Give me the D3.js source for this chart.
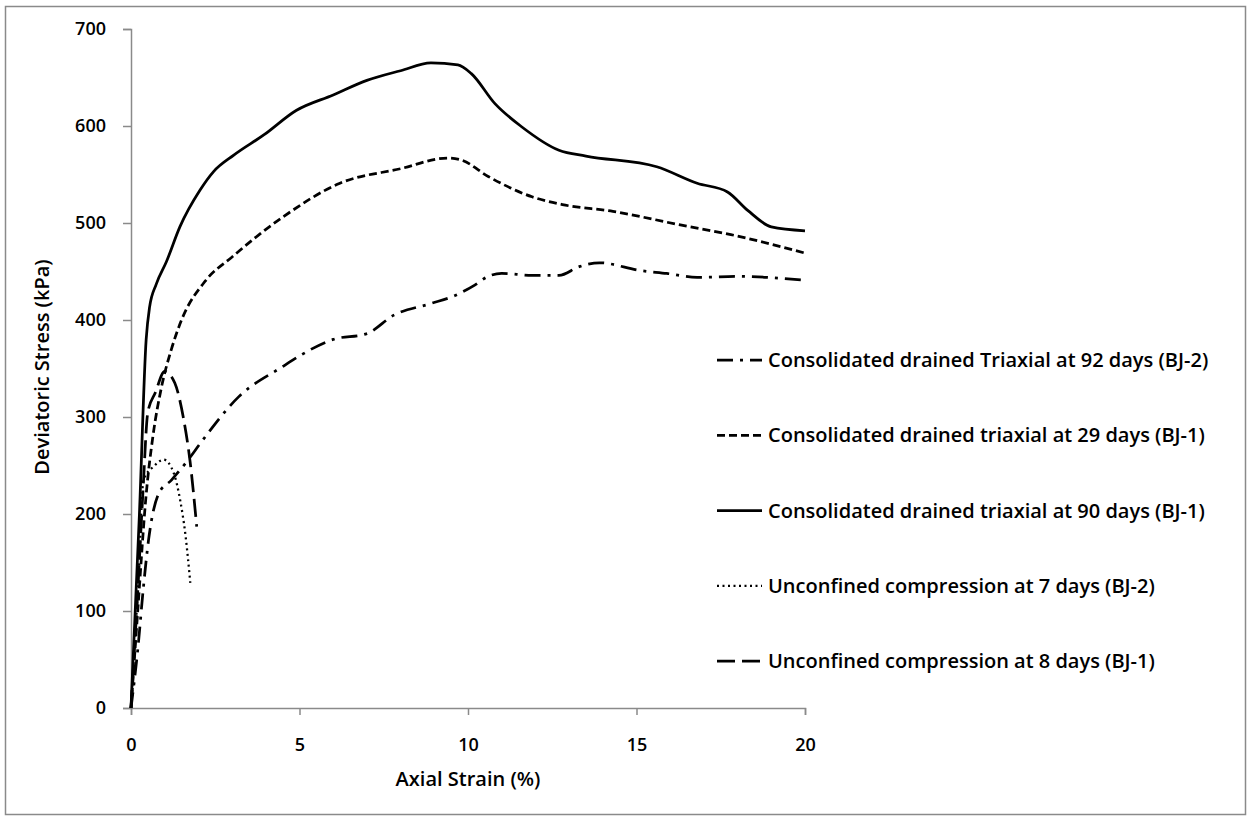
<!DOCTYPE html>
<html>
<head>
<meta charset="utf-8">
<script src="https://cdn.jsdelivr.net/npm/d3@7"></script>
<style>
  body { margin: 0; background: #fff; }
  text { font-family: "Open Sans", sans-serif; font-weight: 600; fill: #000; }
</style>
</head>
<body>
<div id="chart"></div>
<script>
// chart values
var xTicks = [0, 5, 10, 15, 20];
var yTicks = [0, 100, 200, 300, 400, 500, 600, 700];

var cd92Strain = [0, 0.2, 0.37, 0.52, 0.82, 1.2, 1.7, 2.06, 3.2, 4.5, 5.0, 6.0, 7.0, 7.8, 8.9, 9.6, 10.2, 10.6, 11.0, 11.9, 12.7, 13.3, 13.9, 15.1, 15.9, 16.8, 18.0, 20.0];
var cd92Stress = [0, 60, 125, 173, 221, 235, 256, 273, 321, 352, 363, 380, 386, 405, 417, 425, 436, 445, 448, 446, 446, 455, 459, 451, 448, 444, 445, 441];

var cd29Strain = [0, 0.2, 0.45, 0.65, 0.9, 1.2, 1.5, 2.2, 3.0, 4.5, 6.2, 8.0, 9.4, 9.8, 10.6, 11.9, 12.8, 14.3, 16.3, 17.8, 20.0];
var cd29Stress = [0, 100, 220, 280, 330, 370, 400, 440, 465, 506, 541, 556, 567, 565, 548, 527, 519, 512, 498, 488, 469];

var cd90Strain = [0, 0.25, 0.45, 0.55, 0.75, 1.05, 1.45, 2.05, 2.45, 3.05, 3.95, 4.9, 6.0, 7.0, 8.0, 8.9, 9.7, 10.1, 10.8, 11.6, 12.7, 13.5, 15.6, 16.8, 17.7, 18.3, 19.0, 20.0];
var cd90Stress = [0, 200, 380, 413, 437, 460, 496, 534, 553, 570, 591, 616, 632, 647, 657, 665, 663, 654, 623, 599, 575, 569, 558, 541, 532, 513, 496, 492];

var uc7Strain = [0, 0.12, 0.23, 0.37, 0.67, 0.97, 1.27, 1.46, 1.61, 1.76];
var uc7Stress = [0, 70, 139, 235, 249, 256, 242, 214, 180, 129];

var uc8Strain = [0, 0.2, 0.35, 0.5, 0.72, 1.0, 1.3, 1.55, 1.75, 1.95];
var uc8Stress = [0, 120, 220, 305, 325, 347, 335, 300, 255, 187];

var seriesNames = [
  "Consolidated drained Triaxial at 92 days (BJ-2)",
  "Consolidated drained triaxial at 29 days (BJ-1)",
  "Consolidated drained triaxial at 90 days (BJ-1)",
  "Unconfined compression at 7 days (BJ-2)",
  "Unconfined compression at 8 days (BJ-1)"
];

var series = [
  {name: seriesNames[0], x: cd92Strain, y: cd92Stress, dash: "16,7,3,7", w: 2.75},
  {name: seriesNames[1], x: cd29Strain, y: cd29Stress, dash: "8,4", w: 2.75},
  {name: seriesNames[2], x: cd90Strain, y: cd90Stress, dash: null, w: 2.75},
  {name: seriesNames[3], x: uc7Strain, y: uc7Stress, dash: "2,3.5", w: 2.25},
  {name: seriesNames[4], x: uc8Strain, y: uc8Stress, dash: "18,7", w: 2.75}
];

var svgWidth = 1248;
var svgHeight = 819;

var svg = d3.select("#chart")
  .append("svg")
  .attr("width", svgWidth)
  .attr("height", svgHeight);

// outer frame
svg.append("rect")
  .attr("x", 5.5).attr("y", 6.5)
  .attr("width", 1240).attr("height", 808)
  .attr("fill", "none")
  .attr("stroke", "#8a8a8a")
  .attr("stroke-width", 1.5);

var xScale = d3.scaleLinear().domain([0, 20]).range([131, 805]);
var yScale = d3.scaleLinear().domain([0, 700]).range([708, 29]);

// axes
var xAxis = d3.axisBottom(xScale).tickValues(xTicks).tickSize(7).tickPadding(23);
var yAxis = d3.axisLeft(yScale).tickValues(yTicks).tickSize(8).tickPadding(17);

var xAxisG = svg.append("g")
  .attr("transform", "translate(0," + yScale(0) + ")")
  .call(xAxis);

var yAxisG = svg.append("g")
  .attr("transform", "translate(" + xScale(0) + ",0)")
  .call(yAxis);

[xAxisG, yAxisG].forEach(function(g) {
  g.select(".domain").attr("stroke", "#8a8a8a").attr("stroke-width", 1.5);
  g.selectAll(".tick line").attr("stroke", "#8a8a8a").attr("stroke-width", 1.5);
  g.selectAll(".tick text")
    .attr("font-family", "Open Sans")
    .attr("font-weight", 600)
    .attr("font-size", 18)
    .attr("fill", "#000");
});

// axis titles
svg.append("text")
  .attr("x", (xScale(0) + xScale(20)) / 2)
  .attr("y", 786)
  .attr("text-anchor", "middle")
  .attr("font-size", 20)
  .text("Axial Strain (%)");

svg.append("text")
  .attr("transform", "translate(49,367) rotate(-90)")
  .attr("text-anchor", "middle")
  .attr("font-size", 20)
  .text("Deviatoric Stress (kPa)");

// curves
var line = d3.line()
  .x(function(d) { return xScale(d[0]); })
  .y(function(d) { return yScale(d[1]); })
  .curve(d3.curveMonotoneX);

series.forEach(function(s) {
  var pts = s.x.map(function(v, i) { return [v, s.y[i]]; });
  svg.append("path")
    .datum(pts)
    .attr("d", line)
    .attr("fill", "none")
    .attr("stroke", "#000")
    .attr("stroke-width", s.w)
    .attr("stroke-dasharray", s.dash);
});

// legend
var legend = svg.append("g");
series.forEach(function(s, i) {
  var ly = 360 + i * 75.3;
  legend.append("line")
    .attr("x1", 717).attr("x2", 762)
    .attr("y1", ly).attr("y2", ly)
    .attr("stroke", "#000")
    .attr("stroke-width", s.w)
    .attr("stroke-dasharray", s.dash);
  legend.append("text")
    .attr("x", 768)
    .attr("y", ly)
    .attr("dy", "0.35em")
    .attr("font-size", 20)
    .text(s.name);
});
</script>
</body>
</html>
